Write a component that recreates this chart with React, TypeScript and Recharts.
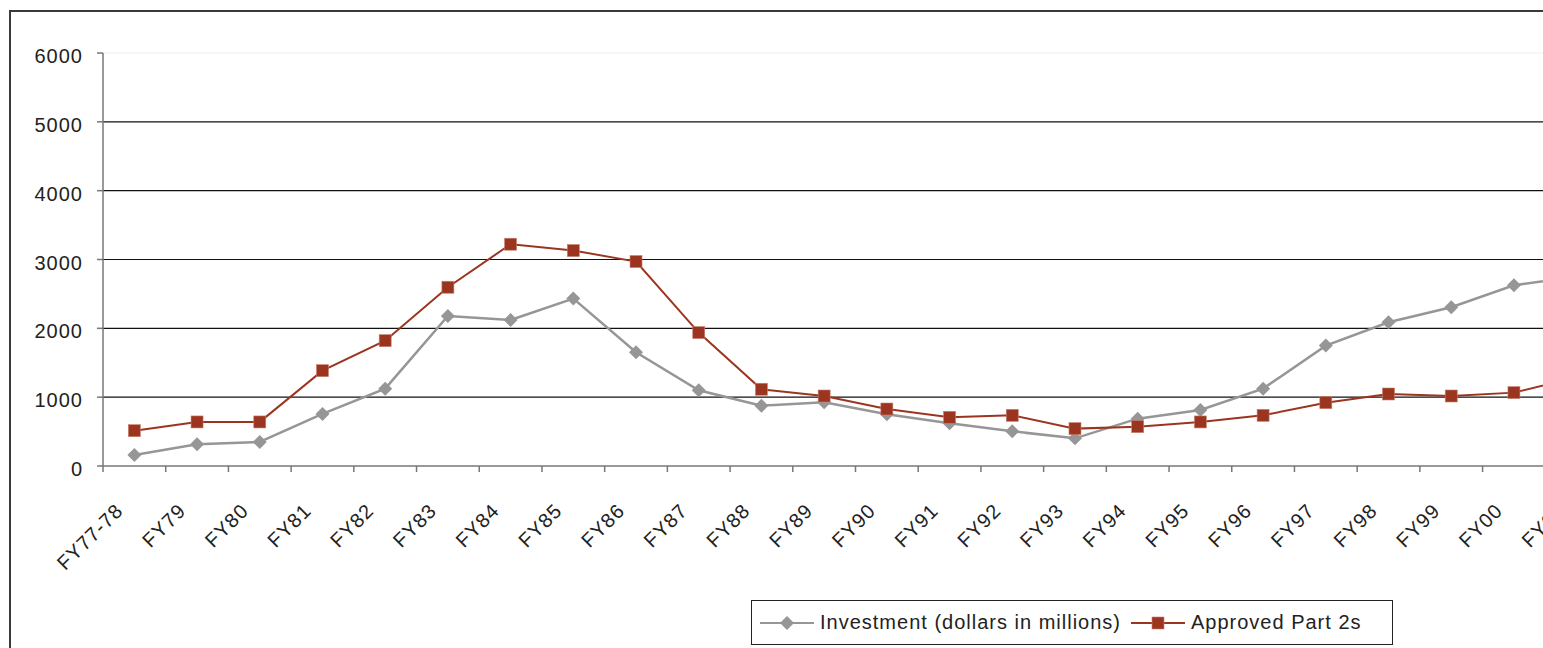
import React from 'react';
import { LineChart, Line, XAxis, YAxis, ReferenceLine } from 'recharts';

// fiscal years on the x axis (FY01 is clipped at the right edge)
const years = [
  'FY77-78', 'FY79', 'FY80', 'FY81', 'FY82', 'FY83', 'FY84', 'FY85', 'FY86', 'FY87', 'FY88', 'FY89',
  'FY90', 'FY91', 'FY92', 'FY93', 'FY94', 'FY95', 'FY96', 'FY97', 'FY98', 'FY99', 'FY00', 'FY01',
];

// Investment (dollars in millions)
const investment = [
  160, 315, 349, 756, 1124, 2180, 2122, 2432, 1652, 1100, 877, 925,
  751, 620, 504, 402, 688, 814, 1124, 1749, 2088, 2306, 2626, 2750,
];

// Approved Part 2s
const approved = [
  513, 640, 640, 1385, 1821, 2597, 3222, 3130, 2970, 1938, 1115, 1017,
  828, 707, 736, 543, 572, 640, 736, 920, 1046, 1017, 1066, 1290,
];

const yTicks = [0, 1000, 2000, 3000, 4000, 5000, 6000];
const gridLines = [1000, 2000, 3000, 4000, 5000];

const FONT = '"Liberation Sans", Arial, sans-serif';
const GREY = '#969696';
const RED = '#9b3520';
const TEXT = '#222';

const data = years.map((year, i) => ({
  year,
  investment: investment[i],
  approved: approved[i],
}));

const Diamond = ({ cx, cy }: any) => {
  if (cx == null || cy == null) return null;
  const r = 7;
  return <path d={`M${cx},${cy - r}L${cx + r},${cy}L${cx},${cy + r}L${cx - r},${cy}Z`} fill={GREY} />;
};

const Square = ({ cx, cy }: any) => {
  if (cx == null || cy == null) return null;
  const s = 12;
  return <rect x={cx - s / 2} y={cy - s / 2} width={s} height={s} fill={RED} stroke="#c98070" strokeWidth={0.6} />;
};

// label plus a tick mark on the left edge of each category band
const YearTick = ({ x, y, payload }: any) => {
  const half = payload?.offset ?? 0;
  return (
    <g>
      <line x1={x - half} x2={x - half} y1={y} y2={y + 6} stroke="#777" strokeWidth={1.5} />
      <text
        x={x - 10}
        y={y + 46}
        transform={`rotate(-45, ${x - 10}, ${y + 46})`}
        textAnchor="end"
        fill={TEXT}
        fontSize={20}
        letterSpacing={1}
        fontFamily={FONT}
      >
        {payload.value}
      </text>
    </g>
  );
};

const series = [
  { name: 'Investment (dollars in millions)', color: GREY, marker: 'diamond' },
  { name: 'Approved Part 2s', color: RED, marker: 'square' },
];

const LegendBox = () => (
  <div
    style={{
      position: 'absolute',
      left: 743,
      top: 592,
      width: 642,
      height: 45,
      border: '1.5px solid #222',
      boxSizing: 'border-box',
      background: '#fff',
      display: 'flex',
      alignItems: 'center',
      paddingLeft: 8,
      fontFamily: FONT,
      fontSize: 20,
      letterSpacing: 1,
      color: TEXT,
    }}
  >
    {series.map((s) => (
      <div key={s.name} style={{ display: 'flex', alignItems: 'center', marginRight: 10 }}>
        <svg width={54} height={20} style={{ marginRight: 6 }}>
          <line x1={0} x2={54} y1={10} y2={10} stroke={s.color} strokeWidth={2} />
          {s.marker === 'diamond' ? <Diamond cx={27} cy={10} /> : <Square cx={27} cy={10} />}
        </svg>
        <span style={{ whiteSpace: 'nowrap' }}>{s.name}</span>
      </div>
    ))}
  </div>
);

export default function App() {
  return (
    <div
      style={{
        position: 'fixed',
        left: 8,
        top: 8,
        width: 1535,
        height: 640,
        overflow: 'hidden',
        background: '#fff',
      }}
    >
      <div
        style={{
          position: 'absolute',
          left: 1,
          top: 2,
          right: 0,
          bottom: 0,
          borderLeft: '2px solid #3a3a3a',
          borderTop: '2px solid #3a3a3a',
        }}
      />
      <div style={{ position: 'absolute', left: 0, top: 0 }}>
        <LineChart width={1700} height={640} data={data} margin={{ top: 45, right: 100, bottom: 82, left: 0 }}>
          {gridLines.map((v) => (
            <ReferenceLine key={v} y={v} stroke="#111" strokeWidth={1.2} />
          ))}
          <ReferenceLine y={6000} stroke="#eeeeee" strokeWidth={1} />
          <XAxis
            dataKey="year"
            scale="band"
            interval={0}
            height={100}
            tickSize={0}
            tickMargin={0}
            tickLine={false}
            axisLine={{ stroke: '#777', strokeWidth: 1.5 }}
            tick={<YearTick />}
          />
          <YAxis
            domain={[0, 6000]}
            ticks={yTicks}
            width={95}
            tickSize={6}
            tickMargin={14}
            interval={0}
            axisLine={{ stroke: '#777', strokeWidth: 1.5 }}
            tickLine={{ stroke: '#777', strokeWidth: 1.5 }}
            tick={{ fill: TEXT, fontSize: 20, fontFamily: FONT, letterSpacing: 1, dy: 3 }}
          />
          <Line
            dataKey="investment"
            stroke={GREY}
            strokeWidth={2.5}
            dot={<Diamond />}
            activeDot={false}
            isAnimationActive={false}
          />
          <Line
            dataKey="approved"
            stroke={RED}
            strokeWidth={2}
            dot={<Square />}
            activeDot={false}
            isAnimationActive={false}
          />
        </LineChart>
      </div>
      <LegendBox />
    </div>
  );
}
